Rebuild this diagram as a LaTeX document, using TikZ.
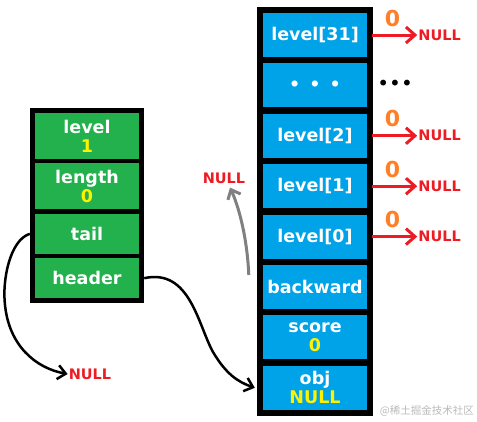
\documentclass[tikz,border=0pt]{standalone}
\usepackage{fontspec}
\setmainfont{DejaVu Sans}
\newfontfamily\cjkfont{Noto Sans CJK SC}
\usetikzlibrary{chains,fit,backgrounds,positioning,arrows.meta}

\definecolor{nodegreen}{RGB}{34,177,76}
\definecolor{levelblue}{RGB}{0,162,232}
\definecolor{nullred}{RGB}{237,28,36}
\definecolor{spanorange}{RGB}{255,127,39}
\definecolor{valyellow}{RGB}{255,242,0}

\begin{document}
\begin{tikzpicture}[x=1pt,y=-1pt]
    \useasboundingbox (0,0) rectangle (477,421);
    \edef\cellwidth{104pt}
    \tikzstyle{listcell}=[fill=nodegreen, text=white, minimum width=\cellwidth,
                          inner sep=0pt, align=center,
                          font=\bfseries\fontsize{17.5}{19}\selectfont]
    \tikzstyle{zlcell}=[listcell, fill=levelblue, minimum height=44pt]
    \tikzstyle{nulltext}=[text=nullred, inner sep=1pt,
                          font=\bfseries\fontsize{14.5}{14.5}\selectfont]
    \tikzstyle{spantext}=[text=spanorange, inner sep=0pt,
                          font=\bfseries\fontsize{22}{22}\selectfont]
    \tikzstyle{levelptr}=[draw=nullred, line width=3pt,
                          -{Straight Barb[length=9pt,width=16pt]}]
    \tikzstyle{ptr}=[draw=black, line width=2.5pt,
                     -{Straight Barb[length=8pt,width=14pt]}]
    \tikzstyle{backptr}=[ptr, draw=gray, line width=3pt]

    % Draw zskiplist struct
    \begin{scope}[start chain=1 going below,node distance=4pt]
        \node [on chain=1,listcell,minimum height=46pt] at (87,136) (level) {level\\\textcolor{valyellow}{1}};
        \node [on chain=1,listcell,minimum height=46pt] (length) {length\\\textcolor{valyellow}{0}};
        \node [on chain=1,listcell,minimum height=40pt] (tail) {tail};
        \node [on chain=1,listcell,minimum height=40pt] (header) {header};
    \end{scope}

    % Draw zskiplistNode cells
    \begin{scope}[start chain=2 going below,node distance=6pt]
        \node [on chain=2,zlcell] at (315,35) (lv31) {level[31]};
        \node [on chain=2,zlcell] (lvdots) {•\hspace{9pt}•\hspace{9pt}•};
        \node [on chain=2,zlcell] (lv2) {level[2]};
        \node [on chain=2,zlcell] (lv1) {level[1]};
        \node [on chain=2,zlcell] (lv0) {level[0]};
        \node [on chain=2,zlcell] (bw) {backward};
        \node [on chain=2,zlcell] (score) {score\\\textcolor{valyellow}{0}};
        \node [on chain=2,zlcell] (obj) {obj\\\textcolor{valyellow}{NULL}};
    \end{scope}

    % Black frames behind the cells
    \begin{scope}[on background layer]
        \node [fit=(level)(header),fill=black,inner sep=4.5pt] (zsl) {};
        \node [fit=(lv31)(obj),fill=black,inner sep=5.5pt] (zn) {};
    \end{scope}

    % Forward pointers of the levels
    \foreach \lv in {lv31,lv2,lv1,lv0}{
        \node [nulltext,right=50pt of \lv] (null-\lv) {NULL};
        \draw [levelptr] ([xshift=5pt]\lv.east) -- node[spantext,above=7pt,pos=0.45] {0} (null-\lv);
    }
    \node [inner sep=0pt,font=\fontsize{20}{20}\selectfont,right=10pt of lvdots] (moredots) {•••};

    % tail, header and backward pointers
    \node [nulltext] at (90,374) (nulltail) {NULL};
    \node [nulltext] at (224,178) (nullbw) {NULL};
    \draw [ptr] ([xshift=-5pt]tail.west) .. controls (10,240) and (2,280) .. (5,305)
                .. controls (9,345) and (35,368) .. (nulltail.west);
    \draw [ptr] ([xshift=5pt]header.east) .. controls (190,268) and (198,325) .. (213,352)
                .. controls (226,374) and (238,382) .. ([xshift=-8pt]obj.west);
    \draw [backptr] ([xshift=-14pt,yshift=12pt]bw.west) .. controls (247,235) and (238,205)
                .. ([xshift=6pt,yshift=-3pt]nullbw.south);

    \node [anchor=east,inner sep=0pt,text=gray!55,font=\cjkfont\fontsize{10.5}{10.5}\selectfont]
        at (474,411) (mark) {@稀土掘金技术社区};
\end{tikzpicture}
\end{document}
